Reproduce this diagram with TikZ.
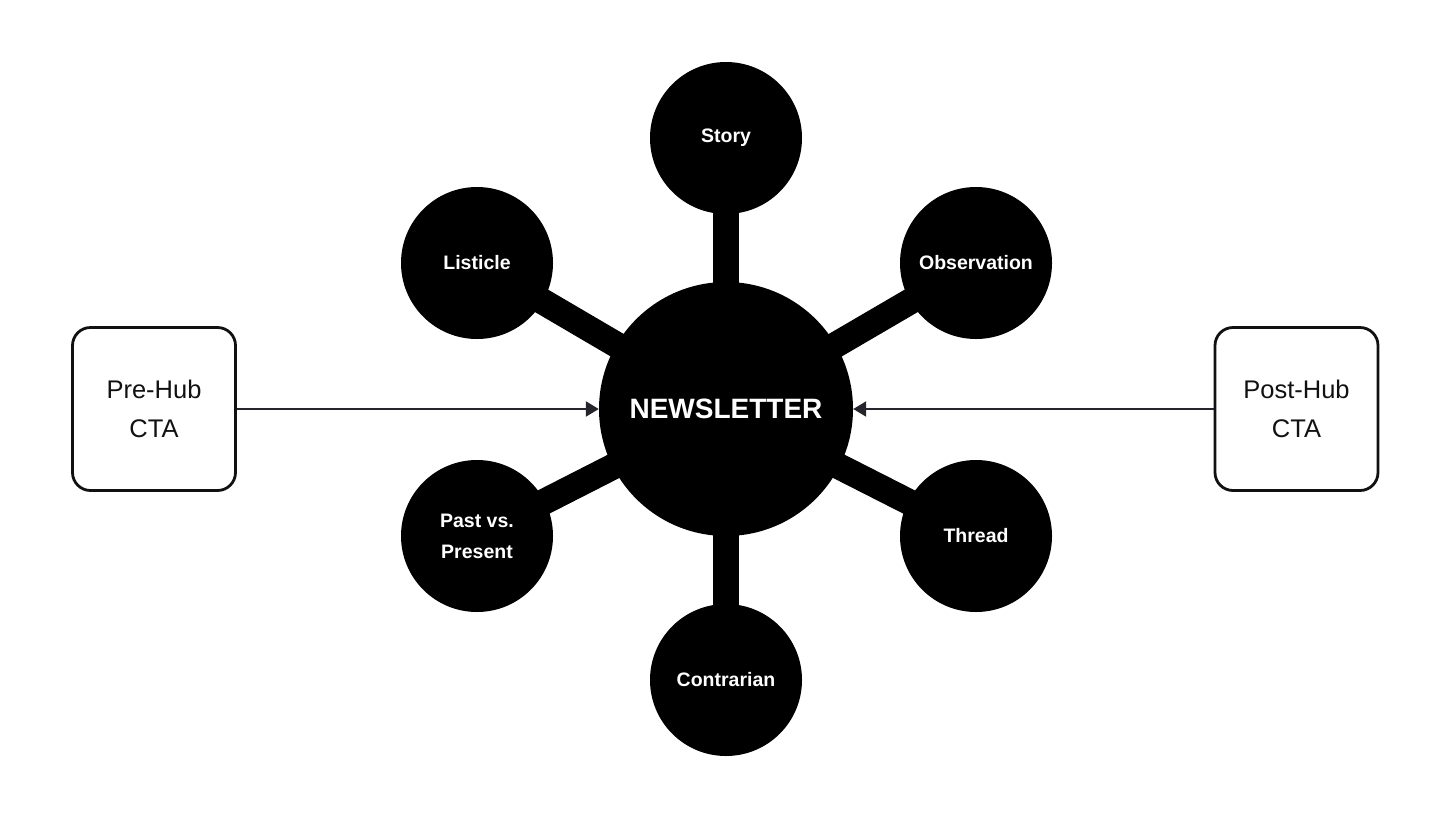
\documentclass[tikz,border=0pt]{standalone}
\usepackage{fontspec}
\setmainfont{Liberation Sans}
\usetikzlibrary{arrows.meta}
\definecolor{ink}{HTML}{111111}
\definecolor{arrowc}{HTML}{25252E}
\tikzset{
  hub/.style={circle,fill=black,minimum size=254pt,inner sep=0pt,text=white,font=\fontsize{28}{32}\selectfont\bfseries},
  spoke/.style={circle,fill=black,minimum size=152pt,inner sep=0pt,text=white,align=center,font=\fontsize{19.5}{31}\selectfont\bfseries},
  link/.style={line width=26pt,black},
  ctabox/.style={draw=ink,line width=2.8pt,rounded corners=18pt,minimum width=163pt,minimum height=163pt,align=center,text=ink,font=\fontsize{25.5}{39}\selectfont},
  flow/.style={line width=2.2pt,arrowc,-{Triangle[length=13pt,width=15pt]}}
}
\begin{document}
\begin{tikzpicture}[x=1pt,y=-1pt]
\useasboundingbox (0,0) rectangle (1456,820);
\coordinate (c) at (726,409);
\coordinate (cs) at (726,138);
\coordinate (cl) at (477,263);
\coordinate (co) at (976,263);
\coordinate (cp) at (477,536);
\coordinate (ct) at (976,536);
\coordinate (cc) at (726,680);
\foreach \t in {cs,cl,co,cp,ct,cc} \draw[link] (c) -- (\t);
\node[hub] (news) at (c) {NEWSLETTER};
\node[spoke] (story) at (cs) {Story};
\node[spoke] (list) at (cl) {Listicle};
\node[spoke] (obs) at (co) {Observation};
\node[spoke] (past) at (cp) {Past vs.\\Present};
\node[spoke] (thread) at (ct) {Thread};
\node[spoke] (contra) at (cc) {Contrarian};
\node[ctabox] (pre) at (154,409) {Pre-Hub\\CTA};
\node[ctabox] (post) at (1296.5,409) {Post-Hub\\CTA};
\draw[flow] (pre.east) -- (news.west);
\draw[flow] (post.west) -- (news.east);
\end{tikzpicture}
\end{document}
